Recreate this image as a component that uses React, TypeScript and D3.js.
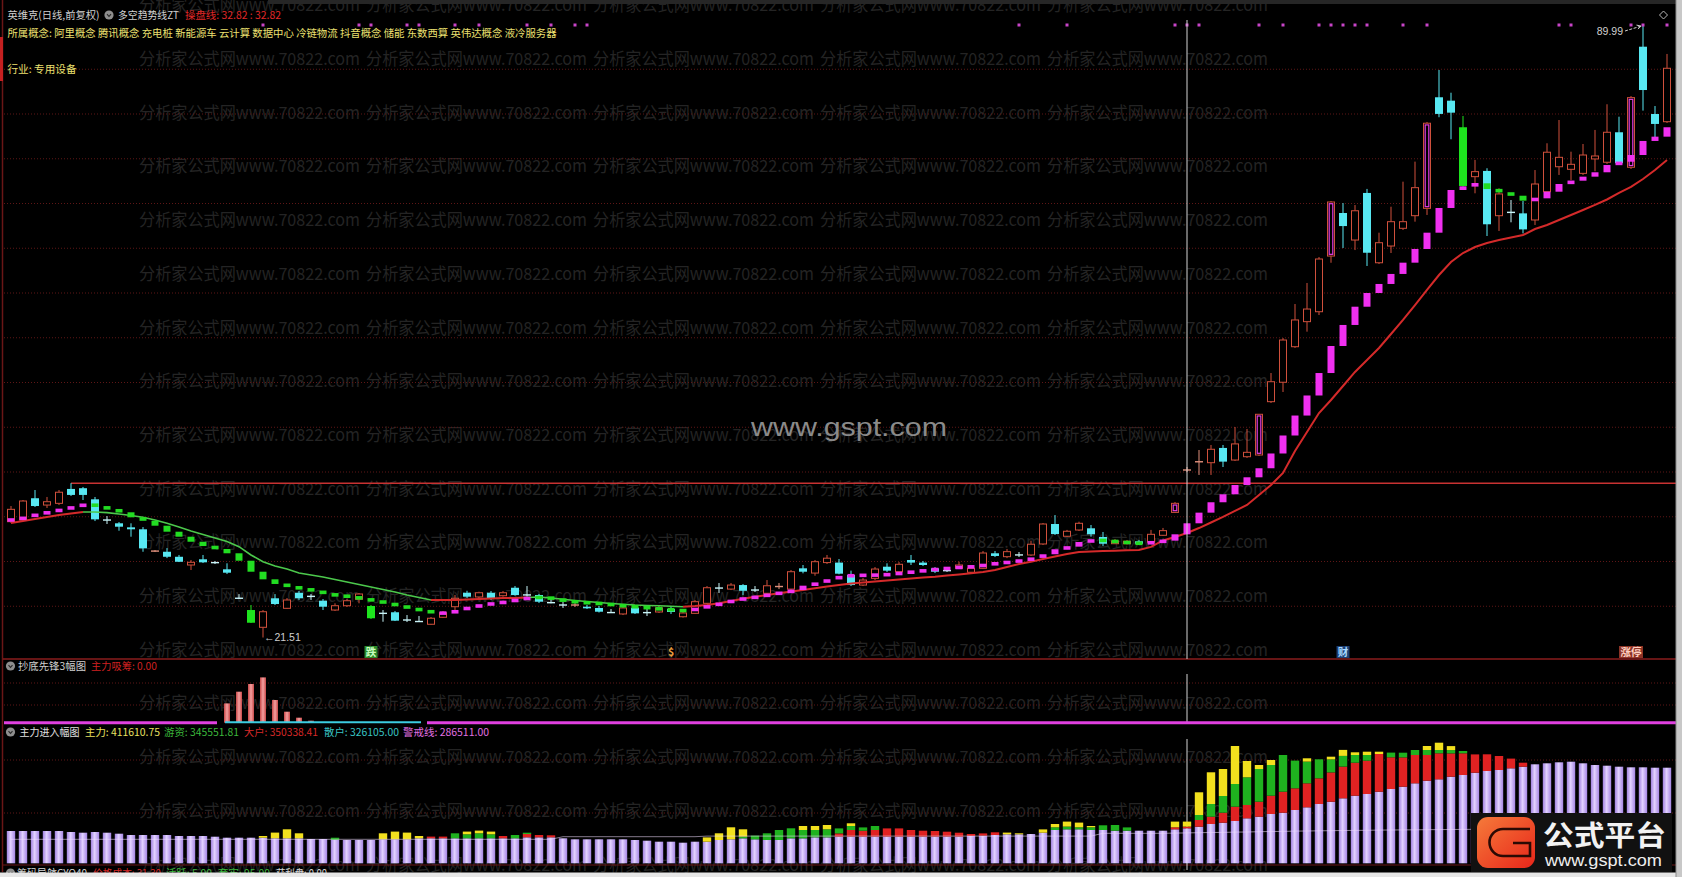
import React from 'react';
import * as d3 from 'd3';

const FONT = "'Noto Sans CJK SC', 'Noto Sans', 'DejaVu Sans', sans-serif";
const LATIN = "'Liberation Sans', 'DejaVu Sans', sans-serif";

// ---------- daily OHLC (前复权) ----------
const opens = [34.45,34.64,37.07,36.31,36.50,38.11,38.19,36.95,34.69,34.27,
33.82,33.60,31.11,31.09,30.53,29.61,30.25,29.92,29.13,25.94,
24.58,22.65,25.89,24.77,26.51,26.14,25.62,24.58,25.06,25.78,
25.03,24.25,24.33,23.52,23.32,22.99,23.77,24.95,26.51,26.04,
26.51,26.18,27.07,26.31,26.26,25.44,25.18,25.08,24.95,24.81,
24.33,24.14,24.84,24.33,24.36,24.69,23.83,24.21,25.33,27.08,
26.92,27.37,26.86,26.45,27.12,26.92,29.24,28.71,29.88,29.88,
28.49,27.37,28.12,29.42,28.86,30.17,29.88,29.24,29.02,29.24,
28.80,29.24,30.92,30.54,30.78,30.73,31.96,34.19,32.82,33.52,
33.71,32.74,31.99,31.99,32.26,32.15,32.93,35.49,40.17,41.09,
41.04,42.69,41.34,41.71,41.90,47.86,50.03,54.00,56.80,57.91,
64.13,68.94,65.92,71.18,63.38,65.25,67.23,68.64,69.46,81.87,
81.49,78.52,73.00,73.64,68.64,69.05,68.90,68.16,71.32,74.11,
73.82,73.37,74.98,74.61,77.96,74.05,87.52,80.00,79.14];
const closes = [35.83,36.76,36.20,36.68,37.74,37.44,37.44,34.71,34.58,33.89,
33.60,31.47,31.22,30.53,29.97,29.91,29.91,29.83,28.75,25.85,
23.16,24.39,25.25,25.70,25.89,26.07,24.95,25.06,25.62,26.37,
23.66,24.17,23.39,23.41,23.27,23.66,24.28,25.89,26.07,26.51,
25.81,26.51,26.25,26.22,25.51,25.36,25.10,25.20,24.77,24.39,
24.26,24.81,24.21,24.25,24.81,24.36,24.25,25.51,27.07,26.99,
27.37,26.73,26.77,27.29,27.29,28.86,28.86,29.98,30.37,28.64,
27.37,27.93,29.16,28.98,29.69,29.88,29.61,28.86,28.94,29.61,
29.24,30.95,30.62,31.10,30.69,31.93,34.19,33.07,33.38,34.27,
33.04,31.99,32.30,32.26,31.99,33.04,33.45,36.50,40.28,41.20,
42.54,41.16,43.14,42.20,46.45,50.09,54.75,56.99,58.21,63.80,
70.17,67.48,69.19,64.50,65.62,67.97,67.97,71.77,78.97,80.01,
80.15,71.96,73.56,67.68,71.07,68.97,67.11,72.18,75.73,75.16,
74.38,75.42,75.31,77.96,74.50,81.83,82.68,78.89,85.11];
const highs = [36.20,36.87,37.99,37.21,37.99,38.75,38.33,37.21,35.08,34.41,
34.27,33.85,31.28,31.50,30.73,30.17,30.73,30.06,29.80,26.36,
25.14,24.58,26.36,25.92,26.70,26.36,25.81,25.33,25.81,26.48,
25.14,24.58,24.47,24.02,23.91,23.80,24.47,26.26,26.73,26.63,
26.70,26.70,27.26,27.26,26.37,25.92,25.48,25.36,25.14,25.03,
24.69,25.03,25.03,24.69,25.03,24.97,24.47,25.70,27.26,27.60,
27.60,27.48,27.26,27.93,27.60,29.05,29.61,30.17,30.73,30.28,
28.98,28.15,29.38,29.80,29.94,30.73,30.06,29.38,29.16,29.98,
29.50,31.17,31.17,31.40,31.06,32.33,34.30,35.19,33.53,34.45,
34.08,33.30,32.52,32.41,32.41,33.53,33.75,36.65,40.56,42.46,
43.02,43.02,45.03,44.81,46.48,51.06,54.97,58.77,61.12,64.02,
70.28,70.05,69.83,71.63,66.74,69.64,72.44,74.68,79.11,84.92,
82.38,79.78,74.87,73.94,71.70,70.39,70.28,73.74,76.73,79.33,
75.79,76.65,78.22,81.09,79.70,82.01,89.99,80.89,86.71];
const lows = [34.30,34.52,36.09,35.98,36.31,37.32,36.87,34.52,34.19,33.44,
32.77,31.09,31.06,30.38,29.94,29.05,29.83,29.72,28.60,25.81,
23.13,21.51,25.14,24.69,25.70,25.70,24.58,24.47,24.92,25.33,
23.58,23.27,23.35,23.24,23.24,22.91,23.69,24.58,25.92,25.92,
25.70,26.07,26.18,26.07,25.36,25.33,24.81,24.92,24.69,24.30,
24.25,24.02,24.14,23.91,24.25,24.14,23.74,24.14,25.25,26.48,
26.81,26.25,26.59,26.31,26.92,26.81,28.68,28.41,29.72,28.57,
27.26,27.26,27.93,28.83,28.71,29.61,29.50,28.71,28.83,29.16,
28.66,29.16,30.50,30.38,30.50,30.62,31.85,32.96,32.74,33.41,
32.77,31.74,31.96,31.91,31.91,32.07,32.85,35.42,40.00,39.67,
39.67,40.56,41.23,41.57,41.79,47.71,48.94,53.86,55.68,57.54,
63.38,65.03,64.80,63.02,63.24,64.47,67.04,67.97,68.72,79.64,
77.18,71.85,71.14,66.37,66.93,67.90,66.66,67.60,71.18,73.19,
72.63,73.19,73.60,74.42,74.31,73.86,80.38,77.18,79.00];
const greenCandleDays = [20, 30, 121];
const limitUpDays = [97, 104, 110, 118, 135];

// ---------- 多空趋势线ZT ----------
const trendLine = [34.64,35.01,35.31,35.57,35.84,36.13,36.43,36.15,35.84,35.50,
34.94,34.56,34.00,33.33,32.77,32.21,31.73,31.40,30.92,30.09,
28.86,28.01,27.49,27.19,26.93,26.74,26.37,26.18,26.07,25.81,
25.62,25.33,25.06,24.77,24.50,24.28,24.19,24.58,24.92,25.14,
25.37,25.48,25.81,25.92,26.04,25.78,25.59,25.42,25.37,25.25,
25.14,24.98,24.92,24.77,24.66,24.58,24.47,24.81,25.06,25.37,
25.70,25.92,26.07,26.37,26.52,26.81,27.30,27.63,28.01,28.38,
28.44,28.47,28.49,28.57,28.75,28.86,29.05,29.16,29.28,29.39,
29.42,29.69,29.80,29.98,30.12,30.40,30.81,31.37,31.66,32.18,
32.41,32.30,32.18,32.07,32.01,32.18,32.33,33.04,34.27,35.46,
36.62,37.51,38.55,39.41,40.42,42.07,44.08,46.31,48.55,51.06,
54.08,56.43,58.47,60.00,61.01,62.13,63.39,64.92,66.74,69.50,
71.51,71.92,72.26,71.62,71.25,70.87,70.32,70.58,71.32,72.18,
72.55,73.00,73.49,74.30,74.67,75.42,76.99,77.47,78.52];
const bearRuns = [[7, 35], [44, 56], [91, 94], [123, 126]];

// ---------- 操盘线 ----------
const maLine = [34.30,34.52,34.75,34.98,35.20,35.37,35.53,35.53,35.46,35.31,
35.14,34.94,34.64,34.27,33.86,33.41,33.02,32.63,32.24,31.66,
30.73,29.98,29.50,29.16,28.72,28.49,28.27,27.99,27.71,27.43,
27.15,26.87,26.59,26.26,25.98,25.70,25.70,25.70,25.76,25.81,
25.87,25.92,25.92,25.98,26.04,25.92,25.78,25.65,25.54,25.42,
25.31,25.22,25.14,25.09,25.06,25.01,24.95,25.03,25.14,25.33,
25.59,25.84,26.07,26.26,26.45,26.64,26.81,27.01,27.20,27.38,
27.55,27.66,27.77,27.88,27.99,28.10,28.22,28.31,28.43,28.55,
28.69,28.83,29.05,29.39,29.73,29.98,30.28,30.56,30.84,31.07,
31.12,31.18,31.21,31.26,31.29,31.63,32.35,32.74,33.19,33.74,
34.36,34.98,35.65,36.32,37.43,38.55,39.89,42.35,44.47,46.59,
48.05,49.61,51.18,52.52,53.86,55.42,56.99,58.66,60.34,62.01,
63.47,64.47,65.14,65.59,65.92,66.21,66.48,67.15,67.60,68.16,
68.72,69.28,69.84,70.45,71.18,71.85,72.74,73.75,74.86];
const greenMaRuns = [[7, 35], [44, 56]];

const gridPrices = [25, 30, 35, 40, 45, 50, 55, 60, 65, 70, 75, 80, 85];
const resistanceDay = 5;
const cursorDay = 98;
const signalDots = [21,29,30,33,34,37,39,43,45,47,48,84,88,97,98,99,104,106,109,110,111,112,113,116,118,129,130,135,136,138];
const dayLabels = [
  { day: 30, text: '跌', fg: '#c8ffc0', bg: '#2b8a2b' },
  { day: 55, text: '$', fg: '#f0a040', bg: 'none' },
  { day: 111, text: '财', fg: '#a8d8ff', bg: '#1d3f73' },
  { day: 135, text: '涨停', fg: '#ffd0c0', bg: '#8c3326' },
];

// ---------- 抄底先锋3幅图 ----------
const bottomDays = [18, 19, 20, 21, 22, 23, 24, 25];
const bottomValues = [19.3, 31, 38.7, 45.3, 22.7, 11, 5, 2];
const cyanBaseRun = [18, 34];

// ---------- 主力进入幅图 (千) ----------
const retail = [323,323,323,323,323,313,306,313,306,296,
283,283,283,283,273,273,273,266,256,256,
256,256,250,250,250,243,243,233,233,233,
233,240,240,240,250,250,250,250,250,250,
250,250,250,260,260,260,250,240,240,240,
240,240,233,226,216,216,206,216,216,233,
240,250,240,233,233,250,250,260,260,266,
266,266,266,266,266,266,266,266,266,266,
273,276,283,290,290,293,306,333,340,340,
333,333,326,326,326,326,326,340,350,366,
393,406,423,450,466,493,506,533,560,593,
616,650,676,693,716,743,766,800,826,840,
866,883,906,923,933,950,966,990,1000,1010,
1016,1000,983,976,966,960,960,956,956];
const bigHolders = [0,0,0,0,0,0,0,0,0,0,
0,0,0,0,0,0,0,0,0,0,
0,0,0,0,0,0,0,0,0,0,
0,0,0,0,0,17,17,0,0,0,
0,23,0,33,23,20,0,0,0,0,
0,0,0,0,0,0,0,0,0,0,
0,0,0,0,0,0,0,0,0,33,
67,60,67,83,83,67,60,57,50,40,
20,23,27,0,0,0,0,0,0,0,
0,0,0,0,0,0,0,20,17,67,
73,100,143,133,150,183,210,217,240,257,
293,317,330,333,377,317,293,283,257,260,
233,217,183,167,140,97,40,0,0,0,
0,0,0,0,0,0,0,0,0];
const hotMoney = [0,0,0,0,0,0,0,0,0,0,
0,0,0,0,0,0,0,0,0,0,
0,0,0,0,0,0,0,23,0,0,
0,0,0,0,0,0,0,50,40,50,
40,0,33,13,0,0,0,0,0,0,
0,0,0,0,0,0,0,0,0,0,
0,17,37,67,100,100,83,73,80,50,
40,33,40,0,0,0,0,0,0,0,
0,0,0,0,0,0,0,27,27,20,
27,47,57,33,0,0,0,0,0,50,
127,167,227,277,327,307,367,277,217,190,
130,107,77,57,0,47,47,50,50,33,
33,23,0,0,0,0,0,0,0,0,
0,0,0,0,0,0,0,0,0];
const mainForce = [0,0,0,0,0,0,0,0,0,0,
0,0,0,0,0,0,0,0,0,0,
0,17,57,90,50,0,0,0,0,0,
0,60,77,67,23,0,0,0,27,27,
27,0,0,0,0,0,0,0,0,0,
0,0,0,0,0,0,0,0,43,67,
120,73,0,0,0,0,40,40,43,0,
27,0,0,0,0,0,0,0,0,0,
0,0,0,17,10,0,33,33,50,47,
13,0,0,0,0,0,0,57,50,227,
317,270,380,163,40,50,0,0,33,0,
27,60,27,33,23,0,0,0,40,73,
40,0,0,0,0,0,0,0,0,0,
0,0,0,0,0,0,0,0,0];
const warnLine = [240,240,240,240,240,240,240,240,240,240,
240,240,240,240,240,240,240,240,240,240,
240,240,240,240,240,240,240,240,240,240,
240,240,240,240,240,240,240,240,240,240,
240,240,240,240,240,240,266,266,266,266,
266,266,266,266,266,266,266,266,272,272,
272,272,272,272,272,272,272,272,272,272,
272,272,272,272,272,272,272,272,272,272,
272,272,272,272,272,272,272,272,272,272,
272,300,300,300,300,300,300,302,304,306,
308,309,312,313,316,318,319,322,323,325,
326,328,329,330,332,333,334,335,336,337,
338,339,340,340,341,342,342,343,344,344,
345,345,346,346,347,347,347,348,348];

const headerConcepts = '所属概念: 阿里概念 腾讯概念 充电桩 新能源车 云计算 数据中心 冷链物流 抖音概念 储能 东数西算 英伟达概念 液冷服务器';
const flowHeader = [
  { t: '主力: 411610.75', c: '#e8e060', x: 85, w: 75 },
  { t: '游资: 345551.81', c: '#3cb83c', x: 164, w: 75 },
  { t: '大户: 350338.41', c: '#d82828', x: 244, w: 74 },
  { t: '散户: 326105.00', c: '#38c4c4', x: 324, w: 75 },
  { t: '警戒线: 286511.00', c: '#e070e0', x: 403, w: 86 },
];
const chipHeader = [
  { t: '筹码导航CYQ40', c: '#d8d8d8', x: 17, w: 70 },
  { t: '价格成本: 31.30', c: '#d82828', x: 93, w: 68 },
  { t: '活跃: 5.00', c: '#3cb83c', x: 166, w: 46 },
  { t: '套牢: 95.00', c: '#3cb83c', x: 218, w: 52 },
  { t: '获利盘: 0.00', c: '#d8d8d8', x: 276, w: 51 },
];

const inRuns = (runs: number[][], i: number) => runs.some(([a, b]) => i >= a && i <= b);

function Icon({ cx, cy }: { cx: number; cy: number }) {
  return (
    <g>
      <circle cx={cx} cy={cy} r={4.6} fill="#8e8e8e" />
      <path d={`M${cx - 2} ${cy - 0.8} L${cx} ${cy + 1.4} L${cx + 2} ${cy - 0.8}`} stroke="#2a2a2a" strokeWidth={1.1} fill="none" />
    </g>
  );
}

export default function App() {
  const n = opens.length;
  const x = d3.scaleLinear().domain([0, n - 1]).range([11, 1667]);
  const y = d3.scaleLinear().domain([21.51, 89.99]).range([637.5, 24.6]);
  const yB = d3.scaleLinear().domain([0, 60]).range([722.7, 662.7]);
  const yF = d3.scaleLinear().domain([0, 1300]).range([863.3, 733.3]);

  const maSegs: { col: string; pts: number[] }[] = [];
  let cur: { col: string; pts: number[] } | null = null;
  for (let i = 1; i < n; i++) {
    const col = inRuns(greenMaRuns, i) ? '#4cc84c' : '#d42a2a';
    if (!cur || cur.col !== col) {
      cur = { col, pts: [i - 1] };
      maSegs.push(cur);
    }
    cur.pts.push(i);
  }
  const maPath = d3.line<number>().x((i) => x(i)).y((i) => y(maLine[i]));
  const warnPath = d3.line<number>().x((i) => x(i)).y((i) => yF(warnLine[i]));

  const wmRows = d3.range(-1, 16).map((k) => 59 + 53.7 * k);
  const wmCols = d3.range(0, 5).map((j) => 139 + 227 * j);

  const resY = y(highs[resistanceDay]);

  return (
    <svg width={1682} height={877} style={{ position: 'absolute', left: 0, top: 0, display: 'block', background: '#000' }}>
      <defs>
        <linearGradient id="lav" x1="0" x2="1" y1="0" y2="0">
          <stop offset="0" stopColor="#9f80e0" />
          <stop offset="0.45" stopColor="#e2d2ff" />
          <stop offset="1" stopColor="#a585e4" />
        </linearGradient>
        <linearGradient id="salmon" x1="0" x2="1" y1="0" y2="0">
          <stop offset="0" stopColor="#c84848" />
          <stop offset="0.5" stopColor="#f4a0a0" />
          <stop offset="1" stopColor="#c84848" />
        </linearGradient>
        <linearGradient id="logoG" x1="0" x2="1" y1="0" y2="1">
          <stop offset="0" stopColor="#f57a3a" />
          <stop offset="1" stopColor="#e8261a" />
        </linearGradient>
      </defs>
      <rect x={0} y={0} width={1682} height={877} fill="#000" />

      {/* watermark */}
      <g fontFamily={FONT} fontSize={17} fill="#242424">
        {wmRows.map((ry, k) =>
          wmCols.map((cx, j) => (
            <text key={`wm${k}-${j}`} x={cx} y={ry + 6} textLength={221} lengthAdjust="spacingAndGlyphs">分析家公式网www.70822.com</text>
          ))
        )}
      </g>
      <rect x={268} y={0} width={1414} height={4} fill="#262626" />

      {/* grids */}
      {gridPrices.map((p) => (
        <line key={`g${p}`} x1={4} x2={1676} y1={y(p)} y2={y(p)} stroke="#5e1616" strokeWidth={1} strokeDasharray="1,2" />
      ))}
      {[683, 705].map((gy) => (
        <line key={`g1${gy}`} x1={4} x2={1676} y1={gy} y2={gy} stroke="#5e1616" strokeWidth={1} strokeDasharray="1,2" />
      ))}
      {[760, 813].map((gy) => (
        <line key={`g2${gy}`} x1={4} x2={1676} y1={gy} y2={gy} stroke="#5e1616" strokeWidth={1} strokeDasharray="1,2" />
      ))}

      {/* borders */}
      <line x1={2.5} x2={2.5} y1={0} y2={872} stroke="#6a1616" strokeWidth={1.5} />
      <rect x={0} y={37} width={3} height={44} fill="#c42020" />
      <line x1={3} x2={1676} y1={659} y2={659} stroke="#8a1c1c" strokeWidth={1.5} />
      <line x1={3} x2={1676} y1={865} y2={865} stroke="#6a1616" strokeWidth={1.2} />

      <text x={751} y={436} fontFamily={LATIN} fontSize={25} fill="#8a8a8a" textLength={196} lengthAdjust="spacingAndGlyphs">www.gspt.com</text>

      <line x1={x(resistanceDay)} x2={1676} y1={resY} y2={resY} stroke="#c83232" strokeWidth={1.5} />

      {/* candles */}
      {opens.map((o, i) => {
        const c = closes[i];
        const cx = x(i);
        const up = c >= o;
        const isGreen = greenCandleDays.includes(i);
        const isLimit = limitUpDays.includes(i);
        const col = isGreen ? '#1ee41e' : up ? '#d0503c' : '#58e8f2';
        const yTop = y(Math.max(o, c));
        const yBot = y(Math.min(o, c));
        const bh = yBot - yTop;
        const yH = y(highs[i]);
        const yL = y(lows[i]);
        if (bh < 1.6) {
          const dc = up ? '#e0907c' : '#c8f4f8';
          return (
            <g key={`c${i}`}>
              <line x1={cx} x2={cx} y1={yH} y2={yL} stroke={dc} strokeWidth={1} />
              <line x1={cx - 4} x2={cx + 4} y1={(yTop + yBot) / 2} y2={(yTop + yBot) / 2} stroke={dc} strokeWidth={1.4} />
            </g>
          );
        }
        if (up && !isGreen) {
          return (
            <g key={`c${i}`}>
              <line x1={cx} x2={cx} y1={yH} y2={yTop} stroke={col} strokeWidth={1} />
              <line x1={cx} x2={cx} y1={yBot} y2={yL} stroke={col} strokeWidth={1} />
              <rect x={cx - 3.5} y={yTop} width={7} height={bh} fill="#000" stroke={col} strokeWidth={1} />
              {isLimit && (
                <rect x={cx - 1.8} y={yTop + 1.7} width={3.6} height={Math.max(0, bh - 3.4)} fill="none" stroke="#e23ce2" strokeWidth={1.2} />
              )}
            </g>
          );
        }
        return (
          <g key={`c${i}`}>
            <line x1={cx} x2={cx} y1={yH} y2={yL} stroke={col} strokeWidth={1} />
            <rect x={cx - 4} y={yTop} width={8} height={bh} fill={col} />
          </g>
        );
      })}

      {maSegs.map((s, k) => (
        <path key={`ma${k}`} d={maPath(s.pts) || ''} fill="none" stroke={s.col} strokeWidth={s.col === '#d42a2a' ? 2 : 1.6} />
      ))}

      {trendLine.map((t, i) => {
        const prev = i > 0 ? trendLine[i - 1] : t;
        const bear = inRuns(bearRuns, i);
        let y1 = y(Math.max(prev, t));
        let y2 = y(Math.min(prev, t));
        if (y2 - y1 < 3.6) {
          const m = (y1 + y2) / 2;
          y1 = m - 1.8;
          y2 = m + 1.8;
        }
        return <rect key={`t${i}`} x={x(i) - 3.5} y={y1} width={7} height={y2 - y1} fill={bear ? '#22dd22' : '#f030f0'} />;
      })}

      {signalDots.map((d) => (
        <rect key={`sd${d}`} x={x(d) - 1.5} y={23.5} width={3} height={3} fill="#c844c8" />
      ))}
      <path d="M1663.5 11 L1667.5 15 L1663.5 19 L1659.5 15 Z" fill="none" stroke="#b8b8b8" strokeWidth={1} />

      <text x={1623} y={35} textAnchor="end" fontFamily={LATIN} fontSize={10.5} fill="#cfcfcf">{highs[136].toFixed(2)}</text>
      <path d={`M1625 31 L${x(136) - 2} ${y(highs[136]) + 1.5}`} stroke="#cfcfcf" strokeWidth={1} strokeDasharray="3,1.5" />
      <path d={`M${x(136) - 2} ${y(highs[136]) + 1.5} l-4.5 -1 M${x(136) - 2} ${y(highs[136]) + 1.5} l-3 3`} stroke="#cfcfcf" strokeWidth={1} />
      <text x={x(21) + 1} y={y(lows[21]) + 3.5} fontFamily={LATIN} fontSize={10.5} fill="#cfcfcf">{'←' + lows[21].toFixed(2)}</text>

      {dayLabels.map((l) => {
        const w = l.text.length * 11 + 2;
        return (
          <g key={`dl${l.day}`}>
            {l.bg !== 'none' && <rect x={x(l.day) - w / 2} y={646} width={w} height={12} fill={l.bg} />}
            <text x={x(l.day)} y={656} textAnchor="middle" fontFamily={FONT} fontSize={10.5} fontWeight={700} fill={l.fg}>{l.text}</text>
          </g>
        );
      })}

      <line x1={x(cursorDay)} x2={x(cursorDay)} y1={20} y2={659} stroke="#d4d4d4" strokeWidth={1} />
      <line x1={x(cursorDay)} x2={x(cursorDay)} y1={674} y2={722} stroke="#d4d4d4" strokeWidth={1} />
      <line x1={x(cursorDay)} x2={x(cursorDay)} y1={739} y2={870} stroke="#d4d4d4" strokeWidth={1} />

      <g fontFamily={FONT} fontSize={10.5}>
        <text x={7.5} y={19} fill="#d0d0d0" textLength={92} lengthAdjust="spacingAndGlyphs">英维克(日线,前复权)</text>
        <Icon cx={109} cy={15} />
        <text x={118} y={19} fill="#d0d0d0" textLength={61} lengthAdjust="spacingAndGlyphs">多空趋势线ZT</text>
        <text x={185} y={19} fill="#e02828" textLength={96} lengthAdjust="spacingAndGlyphs">操盘线: 32.82 : 32.82</text>
        <text x={7.5} y={36.5} fill="#ece070" textLength={549} lengthAdjust="spacingAndGlyphs">{headerConcepts}</text>
        <text x={7.5} y={73} fill="#ece070" textLength={69} lengthAdjust="spacingAndGlyphs">行业: 专用设备</text>
      </g>

      <g fontFamily={FONT} fontSize={10.5}>
        <Icon cx={10.5} cy={666} />
        <text x={18} y={670} fill="#d0d0d0" textLength={68} lengthAdjust="spacingAndGlyphs">抄底先锋3幅图</text>
        <text x={91} y={670} fill="#d02020" textLength={66} lengthAdjust="spacingAndGlyphs">主力吸筹: 0.00</text>
      </g>
      {bottomDays.map((d, k) => (
        <rect key={`bb${d}`} x={x(d) - 3} y={yB(bottomValues[k])} width={6} height={yB(0) - yB(bottomValues[k])} fill="url(#salmon)" />
      ))}
      <line x1={4} x2={x(cyanBaseRun[0]) - 10} y1={yB(0)} y2={yB(0)} stroke="#e040e0" strokeWidth={3} />
      <line x1={x(cyanBaseRun[0]) - 2} x2={x(cyanBaseRun[1]) + 2} y1={yB(0) - 0.5} y2={yB(0) - 0.5} stroke="#3ccce0" strokeWidth={2} />
      <line x1={x(cyanBaseRun[1]) + 8} x2={1676} y1={yB(0)} y2={yB(0)} stroke="#e040e0" strokeWidth={3} />

      <g fontFamily={FONT} fontSize={10.5}>
        <Icon cx={10.5} cy={732} />
        <text x={19.5} y={736} fill="#e0e0e0" textLength={60} lengthAdjust="spacingAndGlyphs">主力进入幅图</text>
        {flowHeader.map((h) => (
          <text key={h.t} x={h.x} y={736} fill={h.c} textLength={h.w} lengthAdjust="spacingAndGlyphs">{h.t}</text>
        ))}
      </g>
      {retail.map((r, i) => {
        const cx = x(i);
        const b1 = r;
        const b2 = b1 + bigHolders[i];
        const b3 = b2 + hotMoney[i];
        const b4 = b3 + mainForce[i];
        return (
          <g key={`f${i}`}>
            <rect x={cx - 4.2} y={yF(b1)} width={8.4} height={yF(0) - yF(b1)} fill="url(#lav)" />
            {bigHolders[i] > 0 && <rect x={cx - 4.2} y={yF(b2)} width={8.4} height={yF(b1) - yF(b2)} fill="#e02222" />}
            {hotMoney[i] > 0 && <rect x={cx - 4.2} y={yF(b3)} width={8.4} height={yF(b2) - yF(b3)} fill="#1fb21f" />}
            {mainForce[i] > 0 && <rect x={cx - 4.2} y={yF(b4)} width={8.4} height={yF(b3) - yF(b4)} fill="#f2e01e" />}
          </g>
        );
      })}
      <path d={warnPath(d3.range(n)) || ''} fill="none" stroke="#f0dcff" strokeOpacity={0.55} strokeWidth={1} />

      <g fontFamily={FONT} fontSize={10.5}>
        <Icon cx={10.5} cy={873} />
        {chipHeader.map((h) => (
          <text key={h.t} x={h.x} y={877} fill={h.c} textLength={h.w} lengthAdjust="spacingAndGlyphs">{h.t}</text>
        ))}
      </g>
      <rect x={0} y={872.5} width={1682} height={5} fill="#e6e6e6" />

      <rect x={1676} y={0} width={6} height={877} fill="#c8c8c8" />
      <line x1={1676} x2={1676} y1={0} y2={877} stroke="#8a8a8a" strokeWidth={1} />

      <g>
        <rect x={1471} y={813} width={201} height={59} fill="#111" />
        <rect x={1477} y={817} width={58} height={51} rx={11} fill="url(#logoG)" />
        <path d="M1530 829 H1503 A13.5 13.5 0 0 0 1503 856 H1530 V843 H1513" fill="none" stroke="#2a0a04" strokeWidth={2.6} />
        <text x={1543} y={846} fontFamily={FONT} fontSize={28} fontWeight={700} fill="#f2f2f2" textLength={123} lengthAdjust="spacingAndGlyphs">公式平台</text>
        <text x={1545} y={866} fontFamily={LATIN} fontSize={17} fill="#eeeeee" textLength={117} lengthAdjust="spacingAndGlyphs">www.gspt.com</text>
      </g>
    </svg>
  );
}
